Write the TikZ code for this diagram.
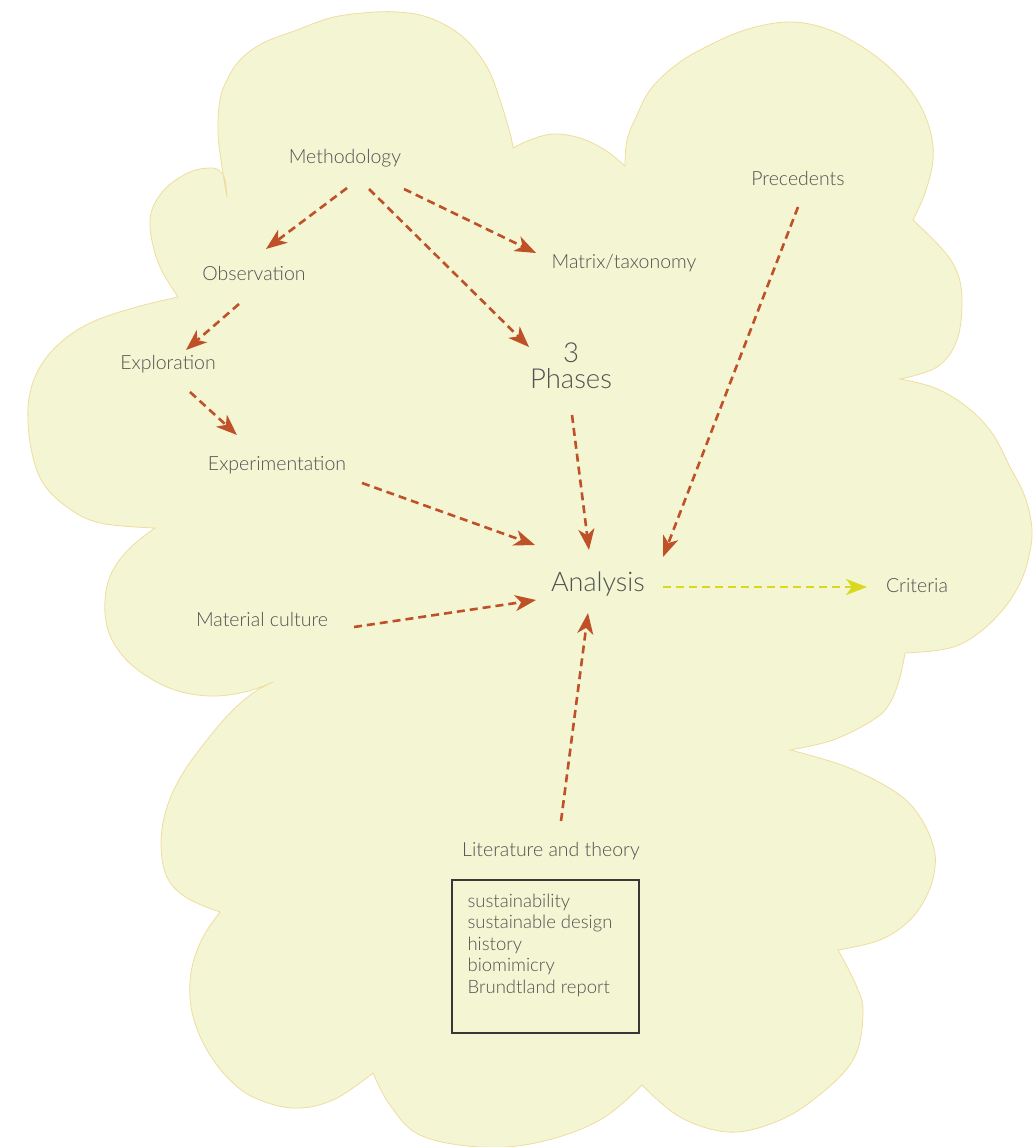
\documentclass[tikz,border=0pt]{standalone}
\usepackage{fontspec}
\setmainfont{Lato}[UprightFont={* Light}]
\usetikzlibrary{arrows.meta,calc}

\definecolor{cloudFill}{HTML}{F4F5D3}
\definecolor{cloudLine}{HTML}{EFDD9E}
\definecolor{rust}{HTML}{BE5128}
\definecolor{lime}{HTML}{D8D81C}
\definecolor{inkGrey}{HTML}{4F5353}

\begin{document}
\begin{tikzpicture}[x=1pt, y=-1pt,
		every node/.style={align=center, text=inkGrey, inner sep=0pt},
		labelNode/.style={font=\fontsize{19.5}{22}\selectfont},
		bigLabel/.style={font=\fontsize{27}{24}\selectfont},
		listBox/.style={
				draw=black!78, line width=1.3pt,
				minimum width=187pt, minimum height=153pt
			},
		listText/.style={align=left, font=\fontsize{18.5}{21.5}\selectfont},
		flowArrow/.style={
				draw=rust, line width=2.6pt, dash pattern=on 8pt off 5pt,
				-{Stealth[length=21pt, width=16pt, inset=6pt]}
			},
		critArrow/.style={flowArrow, draw=lime},
		lobe/.style={smooth, tension=0.62}
	]
	\useasboundingbox (0,0) rectangle (1033,1147);

	% Cloud
	\filldraw[fill=cloudFill, draw=cloudLine, line width=0.8pt] (227,197)
	-- plot[lobe] coordinates {(227,197) (222,167) (218,133) (220,100) (227,80) (240,60) (263,43) (297,30) (330,18) (363,13) (397,12) (430,18) (463,37) (487,67) (500,100) (510,133) (513,148)}
	-- plot[lobe] coordinates {(513,148) (530,140) (553,134) (580,138) (605,150) (625,166)}
	-- plot[lobe] coordinates {(625,166) (627,140) (637,115) (650,90) (672,68) (700,50) (745,30) (790,22) (830,30) (867,50) (895,73) (917,100) (930,130) (933,160) (925,193) (913,220)}
	-- plot[lobe] coordinates {(913,220) (943,250) (957,272) (962,300) (957,340) (937,367) (900,379)}
	-- plot[lobe] coordinates {(900,379) (935,388) (967,407) (992,433) (1010,467) (1025,497) (1032,530) (1028,560) (1020,583) (1005,607) (980,632) (950,648) (905,653)}
	-- plot[lobe] coordinates {(905,653) (900,677) (890,703) (873,720) (833,740) (790,750)}
	-- plot[lobe] coordinates {(790,750) (847,767) (897,793) (920,817) (933,845) (935,867) (928,893) (910,920) (880,940) (838,950)}
	-- plot[lobe] coordinates {(838,950) (856,985) (863,1013) (853,1060) (813,1100) (773,1123) (728,1132) (680,1117) (642,1085)}
	-- plot[lobe] coordinates {(642,1085) (600,1120) (540,1142) (480,1147) (420,1135) (390,1105) (373,1073)}
	-- plot[lobe] coordinates {(373,1073) (333,1100) (293,1108) (253,1097) (227,1077) (207,1050) (195,1023) (190,997) (192,967) (203,937) (220,912)}
	-- plot[lobe] coordinates {(220,912) (187,898) (167,877) (161,843) (167,807) (183,773) (207,740) (230,713) (253,693) (273,682)}
	-- plot[lobe] coordinates {(273,682) (245,692) (210,696) (175,690) (145,675) (122,655) (108,630) (105,600) (112,572) (130,548) (155,528)}
	-- plot[lobe] coordinates {(155,528) (100,523) (67,507) (43,483) (32,453) (28,420) (30,393) (40,367) (60,343) (90,323) (133,308) (178,297)}
	-- plot[lobe] coordinates {(178,297) (163,273) (155,253) (150,227) (153,207) (167,187) (190,172) (210,168) (220,171) (225,180) (227,197)}
	-- cycle;

	\node[labelNode] (meth) at (345,158) {Methodology};
	\node[labelNode] (obs) at (254,273) {Observation};
	\node[labelNode] (expl) at (168,364) {Exploration};
	\node[labelNode] (expm) at (277,465) {Experimentation};
	\node[labelNode] (matc) at (262,619) {Material culture};
	\node[labelNode] (matx) at (624,263) {Matrix/taxonomy};
	\node[bigLabel, font=\fontsize{27.5}{26.5}\selectfont] (phas) at (571,366) {3\\Phases};
	\node[labelNode] (prec) at (798,178) {Precedents};
	\node[bigLabel] (anal) at (598,584) {Analysis};
	\node[labelNode] (crit) at (917,586) {Criteria};
	\node[labelNode] (lit) at (551,851) {Literature and theory};

	\node[listBox] (lbox) at (545.5,956.5) {};
	\node[listText, anchor=north west] (lst) at ($(lbox.north west)+(16,14)$)
	{sustainability\\sustainable design\\history\\biomimicry\\Brundtland report};

	% Arrows
	\draw[flowArrow] ($(meth)+(2,30)$) -- ($(obs)+(12,-24)$);
	\draw[flowArrow] ($(meth)+(24,31)$) -- ($(phas)+(-42,-19)$);
	\draw[flowArrow] ($(meth)+(59,31)$) -- ($(matx)+(-88,-10)$);
	\draw[flowArrow] ($(obs)+(-15,31)$) -- ($(expl)+(18,-14)$);
	\draw[flowArrow] ($(expl)+(22,28)$) -- ($(expm)+(-40,-30)$);
	\draw[flowArrow] ($(expm)+(85,18)$) -- ($(anal)+(-63,-39)$);
	\draw[flowArrow] ($(matc)+(92,8)$) -- ($(anal)+(-62,16)$);
	\draw[flowArrow] ($(phas)+(1,49)$) -- ($(anal)+(-9,-34)$);
	\draw[flowArrow] ($(prec)+(0,29)$) -- ($(anal)+(65,-27)$);
	\draw[flowArrow] ($(lit)+(10,-30)$) -- ($(anal)+(-10,29)$);
	\draw[critArrow] ($(anal)+(65,3)$) -- ($(crit)+(-50,1)$);
\end{tikzpicture}
\end{document}
